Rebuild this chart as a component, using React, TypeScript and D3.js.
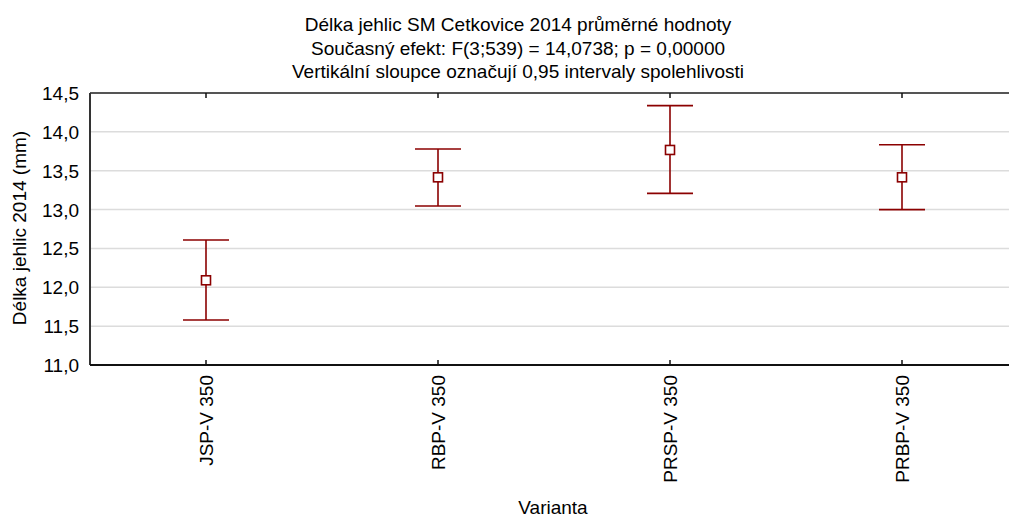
import React from "react";
import * as d3 from "d3";

// Needle length per treatment variant: mean and 95% confidence limits (mm)
const categories = ["JSP-V 350", "RBP-V 350", "PRSP-V 350", "PRBP-V 350"];
const means = [12.09, 13.415, 13.767, 13.415];
const lower = [11.58, 13.046, 13.209, 12.999];
const upper = [12.608, 13.779, 14.337, 13.835];
const yTicks = [11.0, 11.5, 12.0, 12.5, 13.0, 13.5, 14.0, 14.5];
const titleLines = [
  "Délka jehlic SM Cetkovice 2014 průměrné hodnoty",
  "Současný efekt: F(3;539) = 14,0738; p = 0,00000",
  "Vertikální sloupce označují 0,95 intervaly spolehlivosti",
];

const W = 1009;
const H = 517;
const plot = { left: 90, top: 93, right: 1018, bottom: 365 };
const RED = "#8b0000";
const FONT = "'Liberation Sans', Arial, sans-serif";

export default function App() {
  const x = d3
    .scaleBand<string>()
    .domain(categories)
    .range([plot.left, plot.right])
    .padding(0);
  const y = d3.scaleLinear().domain([11, 14.5]).range([plot.bottom, plot.top]);
  const fmt = (v: number) => d3.format(".1f")(v).replace(".", ",");
  const cx = (c: string) => (x(c) ?? 0) + x.bandwidth() / 2;
  const cap = 23;
  const box = 4.5;

  return (
    <svg
      width={W}
      height={H}
      style={{ position: "absolute", left: 0, top: 0, background: "#fff" }}
      fontFamily={FONT}
    >
      <rect x={0} y={0} width={W} height={H} fill="#fff" />
      {titleLines.map((t, i) => (
        <text key={i} x={518} y={31 + i * 23.5} textAnchor="middle" fontSize={19} fill="#000">
          {t}
        </text>
      ))}

      {/* horizontal grid */}
      {yTicks.slice(1, -1).map((v) => (
        <line
          key={v}
          x1={plot.left}
          x2={plot.right}
          y1={y(v)}
          y2={y(v)}
          stroke="#dcdcdc"
          strokeWidth={1.5}
        />
      ))}

      {/* frame */}
      <line x1={plot.left} x2={plot.right} y1={plot.top} y2={plot.top} stroke="#555" strokeWidth={2} />
      <line x1={plot.left} x2={plot.left} y1={plot.top} y2={plot.bottom} stroke="#333" strokeWidth={2} />
      <line x1={plot.left} x2={plot.right} y1={plot.bottom} y2={plot.bottom} stroke="#111" strokeWidth={2} />

      {/* y tick labels */}
      {yTicks.map((v) => (
        <text key={v} x={79} y={y(v) + 7} textAnchor="end" fontSize={19} fill="#000">
          {fmt(v)}
        </text>
      ))}
      <text
        transform={`translate(26,${(plot.top + plot.bottom) / 2 - 1}) rotate(-90)`}
        textAnchor="middle"
        fontSize={19}
        fill="#000"
      >
        Délka jehlic 2014 (mm)
      </text>

      {/* x ticks (inward) and labels */}
      {categories.map((c) => (
        <g key={c}>
          <line x1={cx(c)} x2={cx(c)} y1={plot.bottom} y2={plot.bottom - 5} stroke="#111" strokeWidth={1.5} />
          <line x1={cx(c)} x2={cx(c)} y1={plot.top} y2={plot.top + 5} stroke="#111" strokeWidth={1.5} />
          <text
            transform={`translate(${cx(c) + 7},375) rotate(-90)`}
            textAnchor="end"
            fontSize={19}
            fill="#000"
          >
            {c}
          </text>
        </g>
      ))}
      <text x={553} y={514} textAnchor="middle" fontSize={19} fill="#000">
        Varianta
      </text>

      {/* means with confidence intervals */}
      {categories.map((c, i) => {
        const px = cx(c);
        return (
          <g key={c} stroke={RED} strokeWidth={1.6} fill="none">
            <line x1={px} x2={px} y1={y(upper[i])} y2={y(lower[i])} />
            <line x1={px - cap} x2={px + cap} y1={y(upper[i])} y2={y(upper[i])} />
            <line x1={px - cap} x2={px + cap} y1={y(lower[i])} y2={y(lower[i])} />
            <rect x={px - box} y={y(means[i]) - box} width={box * 2} height={box * 2} fill="#fff" />
          </g>
        );
      })}
    </svg>
  );
}
